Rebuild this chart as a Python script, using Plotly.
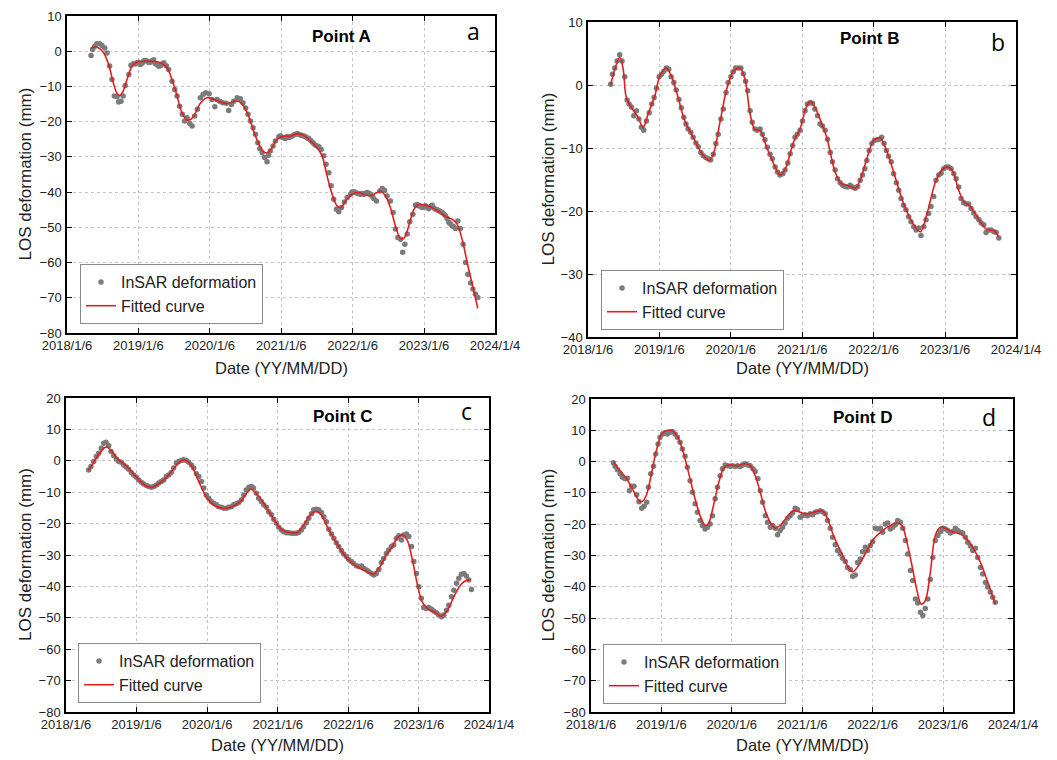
import pandas as pd
import plotly.graph_objects as go

BASE = "2018-01-06"
tick_dates = ["2018-01-06", "2019-01-06", "2020-01-06", "2021-01-06", "2022-01-06", "2023-01-06", "2024-01-04"]
tick_labels = ["2018/1/6", "2019/1/6", "2020/1/6", "2021/1/6", "2022/1/6", "2023/1/6", "2024/1/4"]

# ---------------- Point A (days since 2018/1/6, LOS deformation mm)
a_days = [123,131,142,153,167,179,193,205,218,230,
          242,256,264,276,287,298,316,327,341,358,
          375,392,409,426,443,460,478,495,508,520,
          537,551,563,576,590,602,614,628,640,653,
          667,682,696,709,727,742,756,767,781,796,
          814,827,841,853,870,887,900,914,926,938,
          952,964,976,986,998,1010,1023,1040,1054,1066,
          1083,1100,1117,1134,1151,1168,1185,1202,1219,1236,
          1254,1271,1288,1300,1313,1325,1339,1351,1364,1378,
          1390,1404,1419,1433,1450,1467,1484,1501,1518,1535,
          1552,1569,1583,1600,1612,1624,1637,1654,1668,1680,
          1692,1706,1717,1728,1740,1753,1769,1782,1799,1816,
          1833,1850,1868,1885,1902,1919,1936,1953,1970,1987,
          1999,2012,2026,2038,2050,2064,2076,2089,2101,
          349,366,384,400,418,435,451,469,486,1031,
          1092,1109,1126,1143,1160,1177,1194,1211,1228,1245,1262,1280,
          1458,1475,1492,1510,1527,1544,1561,
          1790,1808,1825,1842,1859,1876,1893,1910,1927,1944,1961,1978]
a_vals = [-1.2,0.5,1.4,2.1,2.1,1.6,0.9,-0.5,-4.2,-8.0,
          -12.7,-12.9,-14.4,-14.2,-12.7,-9.7,-6.6,-4.0,-3.5,-3.3,
          -3.8,-2.8,-2.8,-3.1,-2.4,-3.8,-4.1,-3.3,-4.1,-5.2,
          -8.5,-10.9,-12.7,-15.6,-17.9,-19.8,-18.9,-20.5,-21.2,-18.4,
          -16.5,-13.2,-12.3,-11.8,-12.1,-13.7,-15.8,-13.7,-14.2,-14.6,
          -14.8,-16.8,-15.1,-14.2,-13.2,-13.5,-14.6,-16.1,-17.9,-19.8,
          -21.7,-23.6,-26.0,-27.7,-28.8,-30.2,-31.4,-28.3,-26.9,-25.5,
          -24.3,-24.4,-24.8,-24.5,-24.1,-23.6,-23.6,-23.9,-24.3,-24.8,
          -25.8,-26.7,-27.1,-27.9,-29.7,-32.1,-34.5,-38.2,-42.0,-44.9,
          -45.6,-44.4,-42.8,-41.5,-40.6,-39.9,-40.3,-40.6,-40.6,-40.1,
          -40.6,-41.8,-42.5,-39.7,-39.0,-39.5,-41.1,-42.5,-45.8,-50.5,
          -52.9,-53.4,-57.1,-54.8,-51.9,-48.4,-46.3,-43.7,-43.9,-44.4,
          -43.9,-44.7,-43.7,-44.9,-45.3,-45.8,-46.7,-48.6,-49.6,-50.3,
          -48.2,-50.3,-54.8,-60.0,-63.3,-65.8,-67.5,-68.9,-69.9,
          -3.6,-3.1,-3.4,-2.6,-3.2,-2.7,-3.5,-4.3,-3.6,-29.5,
          -24.0,-24.6,-24.2,-24.3,-23.8,-23.4,-23.8,-24.1,-24.6,-25.3,-26.2,-26.9,
          -40.0,-40.1,-40.5,-40.4,-40.3,-40.3,-41.2,
          -43.5,-44.0,-44.2,-44.3,-44.1,-44.5,-45.0,-45.5,-46.2,-47.5,-49.0,-49.8]
a_fit_days = [123,136,162,188,213,239,256,269,287,307,
              333,358,392,426,460,486,512,537,563,588,
              614,634,657,682,716,750,785,819,853,878,
              904,929,955,981,1006,1023,1049,1074,1109,1143,
              1177,1211,1245,1279,1305,1330,1356,1381,1402,1424,
              1458,1492,1526,1561,1586,1607,1629,1654,1680,1706,
              1726,1748,1774,1799,1833,1868,1902,1936,1970,1995,
              2021,2047,2072,2101]
a_fit_vals = [0.9,1.2,0.9,-0.5,-3.8,-9.4,-12.0,-12.6,-11.3,-8.0,
              -4.2,-3.1,-2.9,-2.8,-3.0,-3.5,-4.7,-8.0,-12.7,-17.5,
              -19.5,-19.3,-17.5,-14.8,-13.2,-13.7,-14.4,-14.9,-14.2,-14.2,
              -15.6,-18.4,-22.7,-26.4,-28.6,-28.8,-27.4,-25.0,-24.1,-24.1,
              -23.4,-23.9,-25.5,-27.4,-29.7,-35.4,-40.6,-43.9,-44.4,-42.5,
              -40.6,-40.1,-40.9,-40.9,-40.1,-39.8,-41.1,-44.4,-49.6,-53.2,
              -52.9,-49.6,-44.9,-43.5,-43.7,-44.4,-45.6,-46.9,-47.7,-49.1,
              -53.4,-60.0,-66.1,-73.0]

# ---------------- Point B
b_days = [116,125,137,149,162,174,188,200,210,222,
          234,248,260,273,285,299,313,326,338,350,
          364,376,388,401,413,425,439,451,465,477,
          490,501,512,526,538,552,564,577,589,603,
          615,627,641,654,666,680,692,706,717,731,
          743,755,769,782,794,806,817,829,840,854,
          866,880,892,905,917,931,943,957,969,982,
          996,1008,1022,1034,1047,1059,1071,1085,1097,1110,
          1122,1136,1148,1160,1174,1187,1199,1213,1225,1239,
          1250,1264,1276,1290,1302,1315,1327,1341,1353,1367,
          1379,1392,1404,1416,1426,1438,1452,1464,1478,1490,
          1502,1514,1526,1537,1551,1563,1577,1589,1601,1614,
          1626,1640,1652,1666,1678,1691,1703,1717,1729,1742,
          1754,1768,1780,1794,1806,1819,1831,1845,1857,1871,
          1883,1896,1908,1922,1934,1947,1959,1973,1985,1999,
          2011,2024,2036,2050,2062,2076,2088,2101]
b_vals = [0.1,1.7,2.7,3.8,4.8,3.8,1.3,-2.4,-3.0,-3.5,
          -4.9,-4.1,-5.4,-6.7,-7.2,-5.7,-4.4,-3.0,-2.0,-0.5,
          1.3,1.7,2.2,2.7,2.5,1.3,0.4,-0.8,-2.3,-3.6,
          -5.1,-6.2,-7.0,-7.5,-8.3,-9.2,-9.8,-10.7,-11.2,-11.5,
          -11.7,-11.9,-11.0,-9.3,-7.8,-5.4,-3.8,-1.2,0.4,1.3,
          2.1,2.7,2.7,2.7,1.8,0.6,-0.9,-4.1,-5.9,-7.0,
          -7.2,-7.0,-7.8,-8.7,-9.9,-11.0,-11.7,-13.0,-13.8,-14.3,
          -14.1,-13.5,-12.4,-10.9,-9.6,-8.3,-7.8,-7.2,-5.7,-4.1,
          -3.0,-2.8,-2.9,-3.8,-4.9,-6.2,-6.5,-7.2,-8.6,-10.7,
          -12.2,-13.5,-14.9,-15.5,-15.9,-16.1,-16.2,-15.9,-16.2,-16.4,
          -16.1,-15.1,-14.3,-13.3,-12.0,-10.4,-9.3,-8.8,-8.7,-8.6,
          -8.3,-9.3,-10.4,-11.3,-12.2,-14.1,-15.5,-16.7,-18.0,-19.1,
          -19.8,-20.9,-21.7,-22.5,-23.0,-22.7,-23.9,-22.5,-21.4,-20.4,
          -19.3,-17.7,-15.1,-14.3,-14.0,-13.3,-13.0,-13.0,-13.3,-14.1,
          -14.9,-16.2,-18.0,-18.7,-18.9,-18.9,-19.6,-20.3,-20.9,-21.4,
          -21.9,-22.2,-23.4,-23.0,-23.0,-23.3,-23.4,-24.3]
b_fit_days = [116,137,162,179,196,222,256,282,307,342,
              367,401,427,461,495,538,581,620,641,675,
              709,743,777,803,829,854,880,914,957,982,
              1008,1051,1085,1119,1139,1162,1196,1221,1264,1298,
              1332,1367,1392,1426,1461,1495,1529,1563,1614,1666,
              1700,1734,1777,1811,1836,1862,1896,1922,1956,2007,
              2041,2076,2101]
b_fit_vals = [0.0,2.5,4.4,2.7,-2.0,-3.6,-5.1,-6.8,-4.6,-1.7,
              1.4,2.7,1.4,-2.0,-5.7,-8.3,-10.8,-12.0,-11.0,-5.9,
              -0.7,2.1,2.7,0.9,-4.6,-7.1,-7.2,-9.9,-13.0,-14.3,
              -13.4,-9.1,-6.9,-3.3,-2.6,-3.6,-6.2,-8.3,-13.8,-15.7,
              -16.0,-16.4,-15.1,-11.7,-8.8,-8.4,-10.6,-13.8,-18.8,-22.2,
              -23.3,-20.4,-15.4,-13.5,-13.0,-13.5,-16.7,-18.5,-19.3,-21.7,
              -23.0,-23.1,-24.1]

# ---------------- Point C
c_days = [117,129,143,157,169,183,195,207,221,233,
          247,261,273,286,299,312,324,338,350,364,
          376,390,402,416,428,442,454,468,480,493,
          506,519,531,545,557,571,583,597,609,623,
          635,649,661,675,687,701,713,726,739,752,
          764,778,790,804,816,830,842,856,868,882,
          894,908,920,933,946,959,971,985,997,1011,
          1023,1037,1049,1063,1075,1089,1101,1115,1127,1141,
          1153,1166,1179,1192,1204,1218,1230,1244,1256,1270,
          1282,1296,1308,1322,1334,1348,1360,1374,1386,1399,
          1411,1425,1437,1451,1463,1477,1489,1503,1515,1529,
          1541,1555,1567,1581,1593,1606,1619,1632,1644,1658,
          1670,1684,1696,1710,1722,1736,1748,1762,1774,1788,
          1800,1814,1826,1839,1851,1865,1877,1891,1903,1917,
          1929,1943,1955,1969,1981,1995,2007,2021,2033,2046,
          2059,2072,2084,2098]
c_vals = [-2.9,-1.8,-0.2,1.4,2.4,4.0,5.6,5.9,4.8,3.0,
          1.6,0.5,-0.2,-0.5,-1.3,-2.0,-2.7,-3.7,-4.5,-5.2,
          -6.1,-6.8,-7.4,-7.9,-8.2,-8.4,-8.2,-7.7,-7.1,-6.6,
          -6.1,-5.0,-4.5,-3.7,-2.3,-0.7,-0.2,0.1,0.3,0.1,
          -0.5,-1.3,-2.3,-4.1,-5.0,-6.6,-8.7,-10.9,-11.9,-13.0,
          -13.5,-14.0,-14.6,-14.8,-15.1,-15.1,-14.8,-14.6,-14.0,-13.7,
          -13.3,-12.4,-10.9,-9.3,-8.4,-8.2,-8.7,-10.3,-11.9,-13.0,
          -14.0,-14.8,-16.2,-17.2,-18.6,-19.9,-21.2,-22.0,-22.6,-22.9,
          -22.9,-23.1,-23.1,-23.1,-22.8,-22.0,-21.0,-19.7,-18.3,-16.9,
          -15.6,-15.4,-15.6,-16.5,-17.8,-19.4,-21.8,-23.3,-24.7,-26.1,
          -27.3,-28.6,-29.7,-30.5,-31.4,-32.1,-32.7,-33.4,-33.7,-33.5,
          -34.3,-34.8,-35.3,-35.9,-36.4,-35.9,-34.6,-32.4,-31.1,-29.5,
          -28.4,-27.3,-26.8,-24.7,-23.9,-25.2,-23.6,-23.3,-24.1,-27.3,
          -32.1,-35.9,-40.1,-43.8,-46.7,-47.0,-46.7,-47.3,-47.8,-48.4,
          -49.1,-49.7,-49.1,-47.6,-46.0,-43.3,-41.2,-39.0,-37.4,-36.1,
          -35.9,-36.7,-38.0,-41.0]
c_fit_days = [117,143,169,195,212,238,273,316,368,419,
              445,480,523,566,600,623,652,695,730,773,
              816,859,902,933,958,980,1023,1075,1118,1161,
              1196,1230,1265,1291,1317,1351,1403,1455,1506,1558,
              1589,1619,1653,1688,1713,1739,1765,1791,1817,1843,
              1877,1912,1941,1972,2007,2041,2067,2096]
c_fit_vals = [-3.1,-0.5,1.9,4.0,4.4,3.0,0.3,-1.8,-5.5,-8.2,
              -8.4,-7.3,-5.2,-1.8,0.1,0.1,-1.8,-7.7,-11.9,-14.4,
              -15.1,-14.6,-13.0,-10.5,-9.0,-10.1,-13.5,-18.6,-22.0,-22.9,
              -22.9,-20.4,-17.2,-16.2,-16.9,-20.9,-26.5,-31.1,-33.7,-35.3,
              -36.1,-34.3,-30.5,-27.3,-24.7,-23.6,-25.2,-31.1,-39.0,-44.9,
              -47.3,-48.4,-49.5,-47.8,-43.3,-39.6,-38.2,-37.8]

# ---------------- Point D
d_days = [116,125,137,151,163,177,189,199,211,223,
          237,249,263,275,289,298,310,324,336,348,
          358,372,384,396,410,422,436,448,462,474,
          488,500,514,526,540,552,566,578,592,604,
          618,630,644,656,670,682,696,708,722,734,
          748,760,774,786,800,812,826,840,852,866,
          878,890,904,916,930,942,956,968,981,994,
          1007,1020,1033,1046,1059,1071,1085,1097,1111,1123,
          1137,1149,1163,1175,1189,1201,1215,1227,1241,1253,
          1267,1279,1293,1305,1319,1331,1345,1357,1371,1383,
          1397,1409,1423,1435,1449,1461,1475,1487,1501,1513,
          1527,1539,1553,1565,1579,1591,1605,1617,1631,1643,
          1657,1669,1683,1695,1709,1721,1734,1747,1760,1773,
          1786,1799,1812,1825,1838,1850,1864,1876,1890,1902,
          1916,1928,1942,1954,1968,1980,1994,2006,2020,2032,
          2046,2058,2071,2084,2097]
d_vals = [-0.4,-1.5,-2.6,-3.9,-5.0,-5.5,-5.3,-9.3,-7.9,-7.9,
          -10.6,-12.8,-14.9,-14.3,-13.0,-8.2,-3.9,-1.5,2.4,5.6,
          7.8,8.8,9.2,8.8,9.4,9.6,8.8,7.8,6.2,4.0,
          1.7,-1.8,-6.1,-9.8,-13.5,-16.2,-18.8,-20.4,-21.5,-21.0,
          -19.9,-17.3,-11.9,-8.2,-4.5,-2.3,-1.1,-1.3,-1.5,-1.3,
          -1.6,-1.3,-1.6,-1.1,-0.7,-1.1,-1.3,-2.3,-3.2,-5.5,
          -9.3,-13.0,-17.3,-19.4,-21.0,-20.4,-21.3,-23.4,-22.0,-21.0,
          -19.6,-18.1,-17.3,-16.4,-14.9,-15.3,-17.8,-17.3,-17.0,-17.3,
          -16.7,-17.0,-16.2,-16.0,-15.7,-16.0,-16.7,-18.8,-21.3,-24.2,
          -26.6,-28.4,-29.5,-30.9,-31.9,-33.8,-34.5,-36.6,-36.2,-32.2,
          -31.1,-28.8,-27.4,-28.4,-26.8,-25.6,-21.3,-21.5,-21.3,-22.6,
          -19.9,-19.6,-21.5,-21.0,-20.2,-18.8,-19.4,-21.3,-25.2,-29.5,
          -34.8,-38.0,-43.9,-45.2,-48.1,-49.2,-46.9,-43.9,-37.7,-30.6,
          -25.2,-23.6,-22.4,-21.3,-21.5,-22.0,-22.8,-22.4,-21.3,-22.0,
          -22.6,-22.8,-24.2,-25.8,-27.0,-28.4,-27.7,-30.6,-33.8,-35.9,
          -38.6,-40.1,-41.7,-43.3,-44.9]
d_fit_days = [116,151,185,220,249,263,286,315,341,367,
              393,419,445,471,497,531,566,592,609,635,
              661,687,713,756,800,826,852,878,904,930,
              956,981,1016,1051,1077,1111,1155,1198,1224,1258,
              1302,1345,1362,1388,1432,1466,1501,1544,1587,1613,
              1639,1665,1691,1712,1734,1760,1786,1812,1847,1882,
              1916,1951,1985,2020,2055,2097]
d_fit_vals = [-0.2,-2.9,-5.5,-9.3,-12.5,-12.8,-10.9,-3.4,4.0,8.8,
              9.9,9.9,8.3,4.6,-1.3,-9.8,-17.3,-20.4,-19.9,-14.1,
              -7.1,-2.3,-1.1,-1.3,-0.7,-1.3,-4.5,-9.8,-15.7,-19.4,
              -21.3,-20.4,-17.8,-15.7,-16.0,-16.7,-16.2,-15.7,-17.8,-23.6,
              -29.5,-34.8,-35.1,-33.2,-28.4,-24.7,-22.6,-20.7,-19.6,-20.4,
              -25.8,-33.2,-41.2,-45.5,-44.4,-35.4,-23.6,-21.0,-21.5,-22.6,
              -23.1,-24.9,-27.9,-32.2,-38.0,-45.5]

point_names = ["Point A", "Point B", "Point C", "Point D"]
panel_letters = ["a", "b", "c", "d"]
y_ranges = [(-80, 10), (-40, 10), (-80, 20), (-80, 20)]


def to_dates(days):
    return pd.Timestamp(BASE) + pd.to_timedelta(days, unit="D")


W, H = 1057, 760
FONT = "Liberation Sans, Arial, sans-serif"
DOT = "#7b7b7b"
RED = "#e0201e"

# plot-area boxes in pixels: (left, right, top, bottom)
boxes = [(67, 495, 16, 333), (588, 1016, 22, 337), (66, 489, 398, 712), (591, 1013, 399, 712)]
legend_pos = [(80, 294), (601, 300), (78, 673), (603, 674)]   # left edge, vertical centre
title_pos = [(341, 37), (870, 39), (343, 416), (863, 417)]
letter_pos = [(473, 31), (998, 42), (466, 411), (989, 417)]
ytitle_x = [25, 548, 25, 548]
xtitle_y = [368, 368, 745, 745]

data = [
    (a_days, a_vals, a_fit_days, a_fit_vals),
    (b_days, b_vals, b_fit_days, b_fit_vals),
    (c_days, c_vals, c_fit_days, c_fit_vals),
    (d_days, d_vals, d_fit_days, d_fit_vals),
]


def note(text, px, py, font, angle=0):
    return dict(text=text, x=px / W, y=1 - py / H, xref="paper", yref="paper",
                xanchor="center", yanchor="middle", showarrow=False,
                textangle=angle, font=font)


fig = go.Figure()
annotations = []
layout = {}
for i, (dd, vv, fd, fv) in enumerate(data):
    n = i + 1
    xa = "x" if n == 1 else f"x{n}"
    ya = "y" if n == 1 else f"y{n}"
    lg = "legend" if n == 1 else f"legend{n}"
    fig.add_trace(go.Scatter(
        x=to_dates(dd), y=vv, mode="markers", name="InSAR deformation",
        marker=dict(color=DOT, size=5.5), xaxis=xa, yaxis=ya, legend=lg))
    fig.add_trace(go.Scatter(
        x=to_dates(fd), y=fv, mode="lines", name="Fitted curve",
        line=dict(color=RED, width=1.6, shape="spline", smoothing=0.9),
        xaxis=xa, yaxis=ya, legend=lg))

    l, r, t, b = boxes[i]
    ax_common = dict(showline=True, linecolor="black", linewidth=1.5, mirror="ticks",
                     ticks="inside", ticklen=5, tickcolor="black", tickwidth=1.2,
                     showgrid=True, gridcolor="#c4c4c4", griddash="dot", gridwidth=1,
                     zeroline=False, automargin=False,
                     tickfont=dict(family=FONT, size=13, color="#222"))
    layout["xaxis" if n == 1 else f"xaxis{n}"] = dict(
        ax_common, type="date", domain=[l / W, r / W], anchor=ya,
        range=[tick_dates[0], tick_dates[-1]], tickmode="array",
        tickvals=tick_dates, ticktext=tick_labels)
    layout["yaxis" if n == 1 else f"yaxis{n}"] = dict(
        ax_common, domain=[1 - b / H, 1 - t / H], anchor=xa,
        range=list(y_ranges[i]), dtick=10, tick0=0, ticklabelstandoff=1)
    lx, ly = legend_pos[i]
    layout[lg] = dict(x=lx / W, y=1 - ly / H, xanchor="left", yanchor="middle",
                      bgcolor="white", bordercolor="#8a8a8a", borderwidth=1,
                      font=dict(family=FONT, size=16, color="#222"),
                      tracegroupgap=0, itemwidth=30)

    px, py = title_pos[i]
    annotations.append(note(f"<b>{point_names[i]}</b>", px, py,
                            dict(family=FONT, size=17, color="black")))
    qx, qy = letter_pos[i]
    annotations.append(note(panel_letters[i], qx, qy,
                            dict(family="Open Sans, sans-serif", size=23, color="black")))
    annotations.append(note("LOS deformation (mm)", ytitle_x[i], (t + b) / 2,
                            dict(family=FONT, size=17, color="#222"), angle=-90))
    annotations.append(note("Date (YY/MM/DD)", (l + r) / 2, xtitle_y[i],
                            dict(family=FONT, size=16.5, color="#222")))

fig.update_layout(
    width=W, height=H, margin=dict(l=0, r=0, t=0, b=0, autoexpand=False),
    paper_bgcolor="white", plot_bgcolor="white",
    font=dict(family=FONT, color="#222"),
    annotations=annotations, **layout)

fig.write_html("out.html", config={"displayModeBar": False},
               post_script="document.body.style.margin='0';document.body.style.overflow='hidden';")
